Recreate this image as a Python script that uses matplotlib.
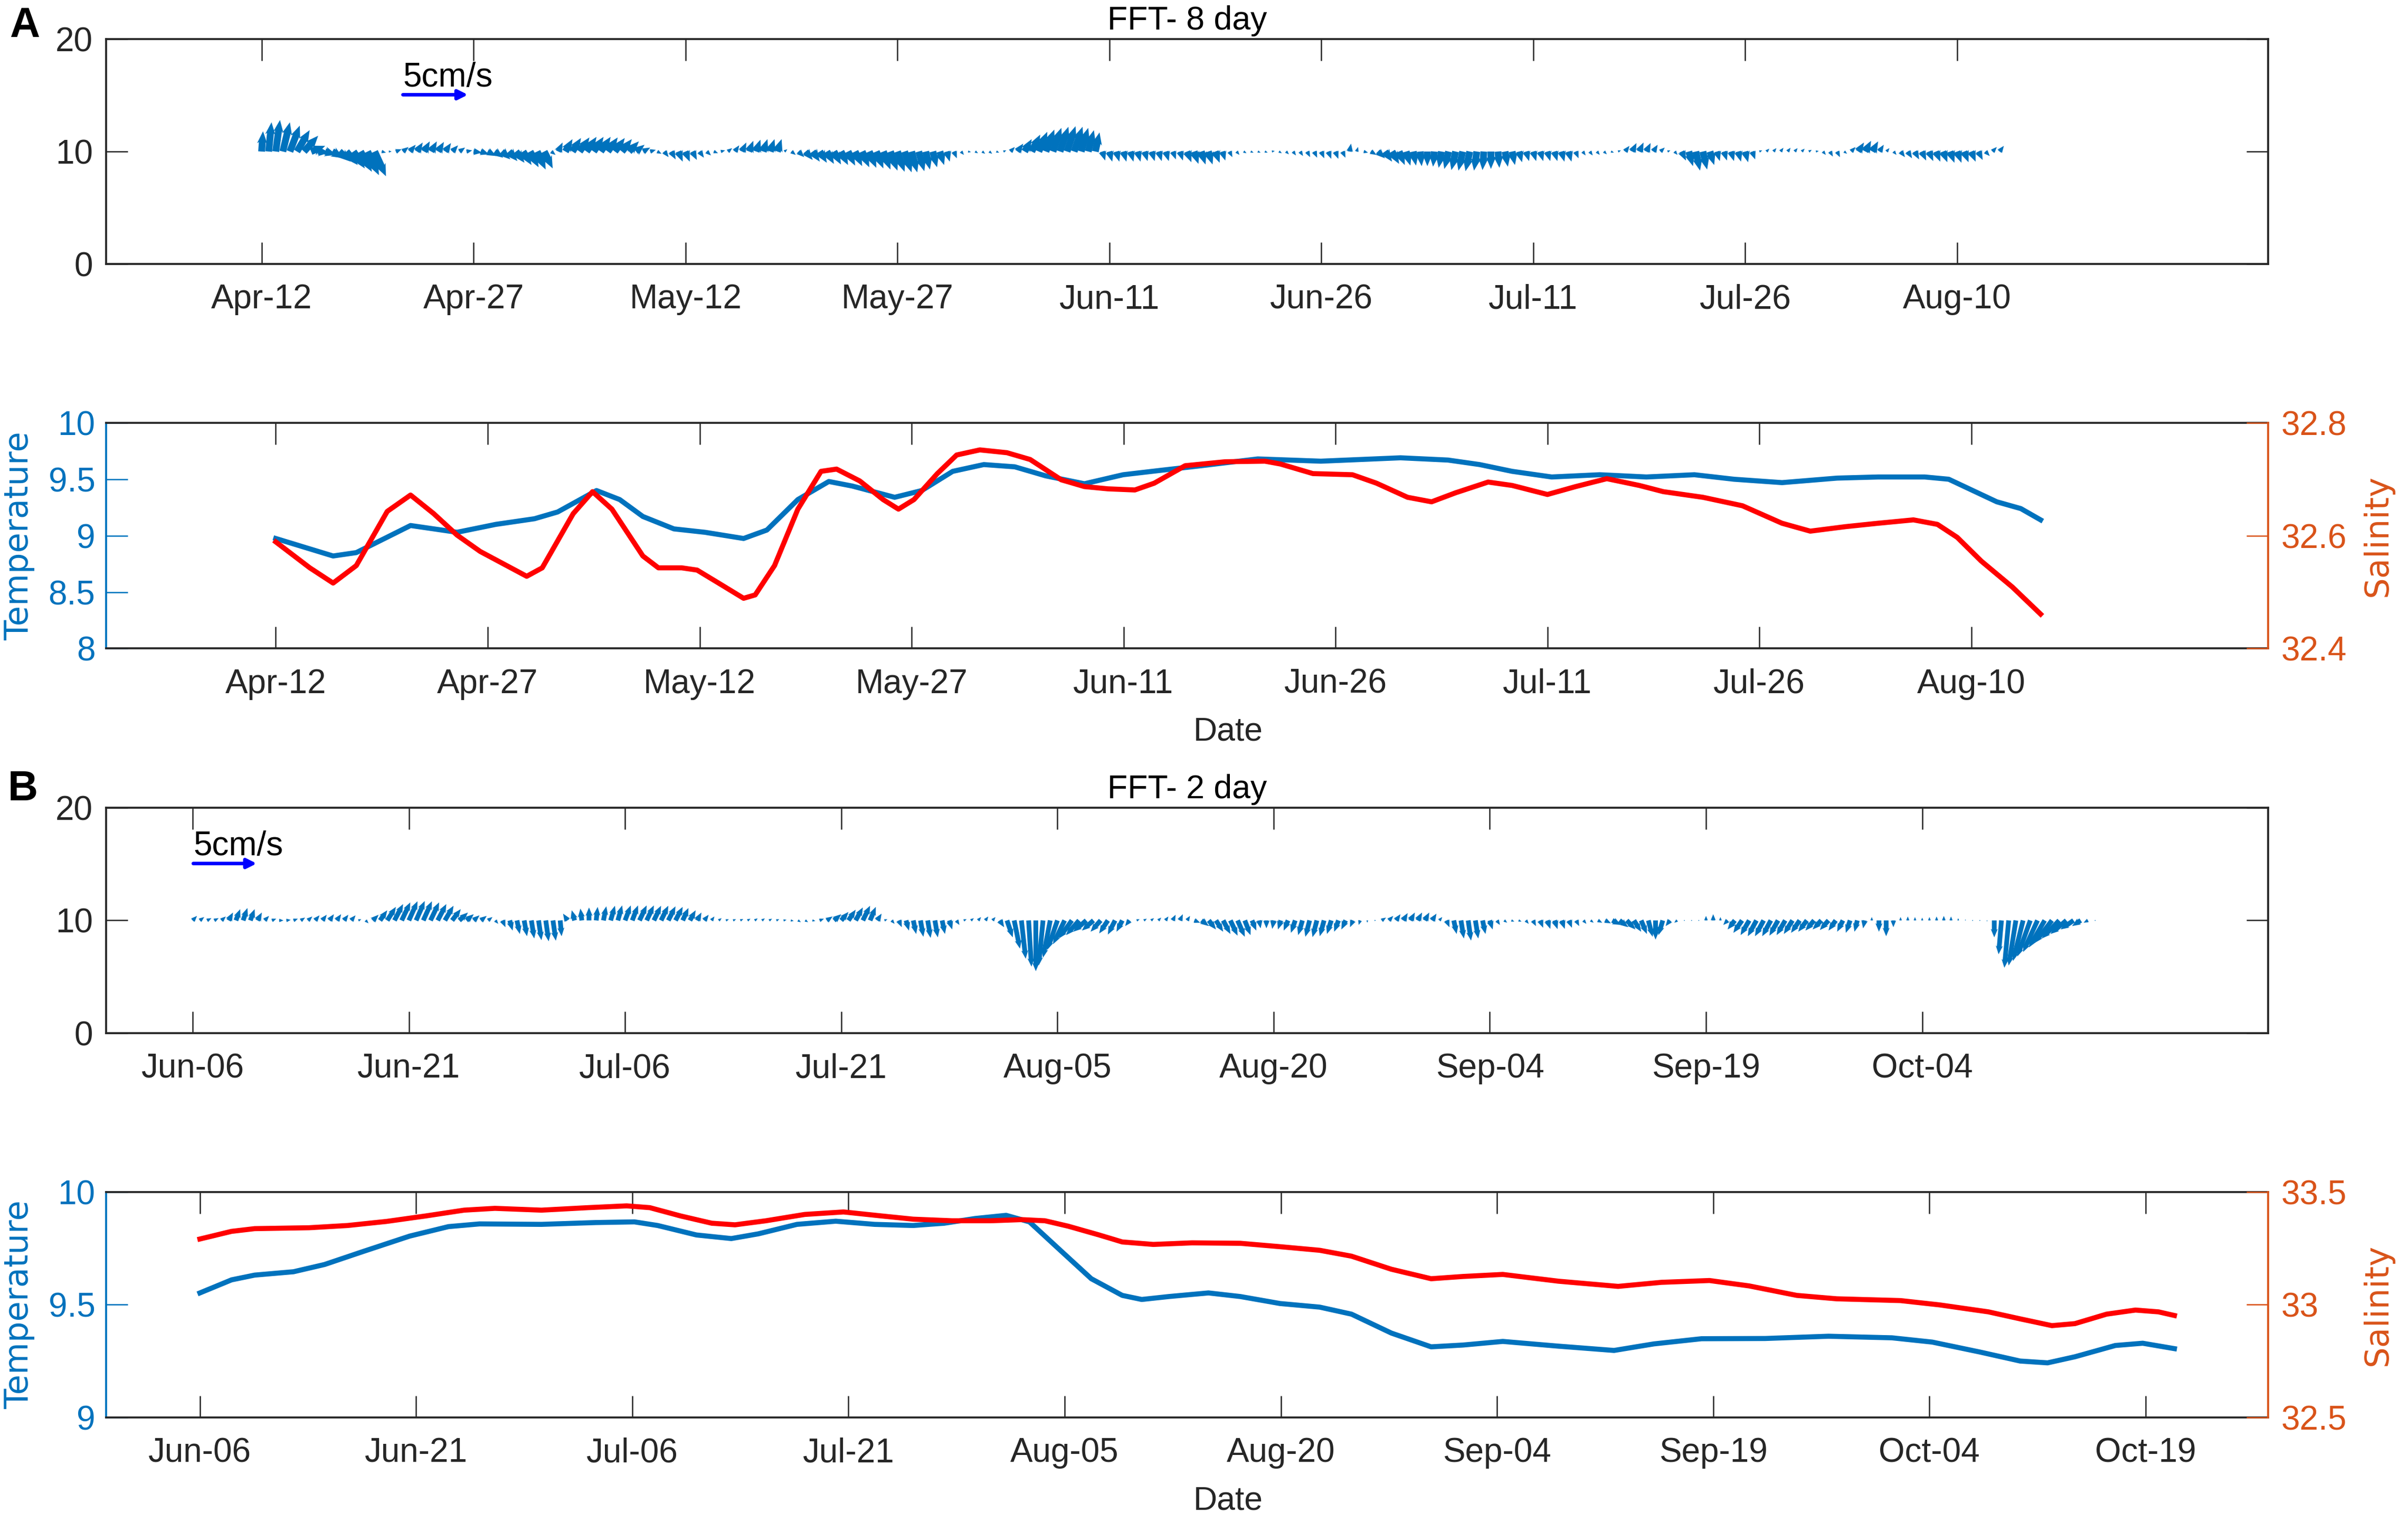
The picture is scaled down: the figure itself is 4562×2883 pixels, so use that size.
import numpy as np
import matplotlib
matplotlib.use('Agg')
import matplotlib.pyplot as plt
import matplotlib.dates as mdates
from matplotlib.ticker import FuncFormatter
from datetime import datetime

plt.rcParams['font.family'] = ['Liberation Sans', 'DejaVu Sans']

BLUE = '#0072BD'
ORANGE = '#D95319'
RED = '#FF0000'
GREY = '#262626'

# ---- panel A: FFT 8 day sticks (plot units, every 12 h from Apr-12) ----
stick_a_start = '2019-04-12'
stick_a_v = [1.8, 2.6, 2.8, 2.6, 2.3, 1.9, 1.4, 0.5, -0.1, -0.3,
             -0.6, -0.9, -1.2, -1.5, -1.8, -2.1, -2.2, -0.1, 0.0, 0.2,
             0.4, 0.6, 0.8, 0.9, 0.9, 0.85, 0.75, 0.55, 0.35, 0.1,
             -0.1, -0.25, -0.4, -0.55, -0.7, -0.85, -1.0, -1.2, -1.4, -1.6,
             -1.5, -0.3, 0.8, 1.1, 1.2, 1.25, 1.3, 1.3, 1.3, 1.25,
             1.2, 1.1, 0.9, 0.6, 0.35, 0.15, -0.2, -0.5, -0.7, -0.9,
             -0.9, -0.75, -0.55, -0.35, -0.15, 0.1, 0.3, 0.55, 0.8, 0.95,
             1.05, 1.1, 1.1, 1.1, 0.2, -0.3, -0.5, -0.75, -0.9, -1.0,
             -1.1, -1.15, -1.2, -1.25, -1.3, -1.4, -1.45, -1.5, -1.6, -1.7,
             -1.8, -1.85, -1.85, -1.75, -1.6, -1.4, -1.2, -0.9, -0.6, -0.3,
             -0.05, -0.15, -0.2, -0.2, -0.1, 0.1, 0.4, 0.7, 1.1, 1.5,
             1.75, 1.95, 2.1, 2.2, 2.25, 2.2, 2.1, 1.9, 1.7, -0.8,
             -0.9, -0.9, -0.9, -0.9, -0.9, -0.85, -0.85, -0.85, -0.85, -0.7,
             -0.8, -0.95, -1.1, -1.15, -1.15, -1.0, -0.8, -0.5, -0.3, -0.15,
             -0.1, -0.1, -0.1, 0.05, -0.15, -0.25, -0.35, -0.4, -0.5, -0.55,
             -0.6, -0.65, -0.65, -0.55, 0.7, 0.4, -0.1, -0.3, -0.6, -0.9,
             -1.1, -1.2, -1.25, -1.25, -1.3, -1.3, -1.35, -1.45, -1.55, -1.65,
             -1.7, -1.75, -1.7, -1.65, -1.55, -1.45, -1.35, -1.2, -0.95, -0.85,
             -0.85, -0.85, -0.85, -0.85, -0.9, -0.9, -0.6, -0.35, -0.35, -0.3,
             -0.25, -0.1, 0.1, 0.5, 0.75, 0.8, 0.75, 0.6, 0.35, 0.1,
             -0.3, -0.8, -1.3, -1.7, -1.6, -1.2, -0.85, -0.8, -0.85, -0.9,
             -0.95, -0.7, 0.1, 0.25, 0.3, 0.33, 0.33, 0.3, 0.25, 0.15,
             0.05, -0.3, -0.45, -0.5, -0.2, 0.4, 0.8, 0.95, 0.9, 0.6,
             0.3, -0.3, -0.5, -0.6, -0.7, -0.8, -0.85, -0.9, -0.95, -1.0,
             -1.0, -0.95, -0.9, -0.75, -0.4, 0.4, 0.5]
stick_a_u = [0.1, 0.2, 0.3, 0.5, 0.7, 0.9, 1.0, 1.0, 0.8, 0.8,
             0.8, 0.8, 0.8, 0.8, 0.8, 0.8, 0.8, 0.3, 0.2, 0.4,
             0.4, 0.4, 0.4, 0.4, 0.4, 0.4, 0.4, 0.4, 0.4, 0.4,
             0.6, 0.6, 0.6, 0.6, 0.6, 0.6, 0.6, 0.6, 0.6, 0.6,
             0.6, 0.3, 0.3, 0.5, 0.6, 0.7, 0.7, 0.7, 0.7, 0.7,
             0.7, 0.7, 0.7, 0.6, 0.5, 0.4, 0.3, 0.3, 0.3, 0.3,
             0.3, 0.3, 0.3, 0.3, 0.3, 0.3, 0.3, 0.3, 0.3, 0.3,
             0.3, 0.3, 0.3, 0.3, 0.2, 0.3, 0.4, 0.5, 0.5, 0.5,
             0.5, 0.5, 0.5, 0.5, 0.5, 0.5, 0.5, 0.5, 0.5, 0.5,
             0.5, 0.5, 0.4, 0.4, 0.3, 0.3, 0.3, 0.2, 0.2, 0.2,
             0.2, 0.2, 0.2, 0.2, 0.2, 0.2, 0.3, 0.4, 0.5, 0.6,
             0.6, 0.6, 0.6, 0.6, 0.6, 0.6, 0.5, 0.4, 0.3, 0.2,
             0.2, 0.2, 0.2, 0.2, 0.2, 0.2, 0.2, 0.2, 0.2, 0.2,
             0.2, 0.3, 0.3, 0.3, 0.3, 0.3, 0.2, 0.2, 0.2, 0.2,
             0.2, 0.2, 0.2, 0.2, 0.2, 0.2, 0.2, 0.2, 0.2, 0.2,
             0.2, 0.2, 0.2, 0.2, 0.1, 0.1, 0.3, 0.4, 0.5, 0.5,
             0.5, 0.4, 0.3, 0.2, 0.1, 0.0, -0.1, -0.2, -0.3, -0.3,
             -0.3, -0.3, -0.2, -0.1, 0.0, 0.1, 0.2, 0.2, 0.2, 0.2,
             0.2, 0.2, 0.2, 0.2, 0.2, 0.2, 0.2, 0.2, 0.2, 0.2,
             0.2, 0.2, 0.2, 0.3, 0.3, 0.3, 0.3, 0.3, 0.3, 0.2,
             0.2, 0.3, 0.3, 0.3, 0.3, 0.3, 0.2, 0.2, 0.2, 0.2,
             0.2, 0.2, 0.2, 0.2, 0.2, 0.2, 0.2, 0.2, 0.2, 0.2,
             0.2, 0.2, 0.2, 0.2, 0.2, 0.3, 0.4, 0.4, 0.4, 0.3,
             0.2, 0.2, 0.3, 0.3, 0.3, 0.3, 0.3, 0.3, 0.3, 0.3,
             0.3, 0.3, 0.3, 0.3, 0.3, 0.3, 0.3]

# ---- panel A: temperature / salinity (days after Apr-12) ----
line_a_start = '2019-04-12'
temp_a_day = [0.0, 4.06, 5.70, 9.54, 12.83, 15.57, 18.31, 19.95, 22.70, 24.34,
              25.98, 28.18, 30.37, 33.11, 34.76, 36.95, 39.14, 40.79, 43.80, 45.72,
              47.91, 50.11, 52.30, 54.49, 57.23, 59.97, 62.71, 65.5, 69.5, 73.96,
              79.6, 82.96, 85.2, 87.5, 90.3, 93.7, 97.0, 100.4, 103.2, 106.6,
              110.5, 113.4, 116.7, 118.4, 121.8, 123.5, 124.9]
temp_a = [8.975, 8.82, 8.85, 9.09, 9.03, 9.10, 9.15, 9.21, 9.40, 9.32,
          9.17, 9.06, 9.03, 8.975, 9.05, 9.32, 9.48, 9.44, 9.34, 9.40,
          9.57, 9.63, 9.61, 9.53, 9.46, 9.54, 9.58, 9.62, 9.68, 9.66,
          9.69, 9.67, 9.63, 9.57, 9.52, 9.54, 9.52, 9.54, 9.50, 9.47,
          9.51, 9.52, 9.52, 9.50, 9.30, 9.24, 9.14]
sal_a_day = [0.0, 2.41, 4.06, 5.70, 7.89, 9.54, 11.18, 12.83, 14.47, 17.76,
             18.86, 21.05, 22.42, 23.79, 25.98, 27.08, 28.73, 29.82, 31.47, 33.11,
             33.93, 35.30, 36.95, 38.59, 39.69, 41.33, 42.98, 44.07, 45.17, 46.82,
             48.19, 49.83, 51.75, 53.39, 55.59, 57.23, 58.88, 60.80, 62.17, 64.36,
             67.2, 70.0, 71.1, 73.4, 76.2, 77.9, 80.1, 81.8, 83.5, 85.8,
             87.5, 90.0, 92.0, 94.2, 96.5, 98.2, 101.0, 103.8, 106.6, 108.6,
             111.1, 113.4, 115.9, 117.6, 119.0, 120.7, 122.9, 124.9]
sal_a = [32.589, 32.543, 32.516, 32.547, 32.643, 32.672, 32.639, 32.601, 32.572, 32.528,
         32.543, 32.639, 32.678, 32.647, 32.564, 32.543, 32.543, 32.539, 32.514, 32.489,
         32.495, 32.547, 32.647, 32.714, 32.718, 32.697, 32.664, 32.647, 32.664, 32.710,
         32.743, 32.752, 32.747, 32.735, 32.699, 32.687, 32.683, 32.681, 32.693, 32.724,
         32.731, 32.732, 32.727, 32.710, 32.708, 32.693, 32.668, 32.660, 32.676, 32.695,
         32.689, 32.673, 32.687, 32.701, 32.689, 32.678, 32.668, 32.653, 32.622, 32.608,
         32.616, 32.622, 32.628, 32.620, 32.597, 32.555, 32.509, 32.461]

# ---- panel B: FFT 2 day sticks (plot units, every 12 h from Jun-06) ----
stick_b_start = '2019-06-06'
stick_b_v = [0.4, 0.3, 0.2, 0.2, 0.35, 0.7, 1.0, 1.1, 1.0, 0.7,
             0.4, 0.15, 0.0, 0.05, 0.15, 0.25, 0.35, 0.45, 0.5, 0.55,
             0.55, 0.5, 0.45, 0.1, -0.25, 0.5, 0.9, 1.2, 1.45, 1.6,
             1.7, 1.72, 1.7, 1.6, 1.45, 1.3, 1.0, 0.7, 0.55, 0.45,
             0.4, 0.3, -0.3, -0.6, -0.9, -1.2, -1.4, -1.6, -1.75, -1.85,
             -1.8, -1.4, 0.6, 0.9, 1.05, 1.15, 1.2, 1.25, 1.3, 1.33,
             1.33, 1.33, 1.33, 1.33, 1.3, 1.3, 1.25, 1.2, 1.1, 0.9,
             0.7, 0.5, 0.35, 0.2, 0.1, 0.1, 0.12, 0.15, 0.18, 0.18,
             0.15, 0.1, 0.05, -0.05, -0.15, -0.15, -0.05, 0.15, 0.35, 0.55,
             0.75, 0.95, 1.15, 1.3, 1.2, 0.6, 0.1, -0.3, -0.6, -0.9,
             -1.2, -1.45, -1.55, -1.5, -1.2, -0.8, -0.4, 0.1, 0.2, 0.3,
             0.35, 0.3, -0.6, -1.5, -2.5, -3.4, -4.1, -4.5, -4.0, -3.3,
             -2.6, -2.1, -1.6, -1.3, -1.0, -0.9, -1.0, -1.15, -1.25, -1.0,
             -0.5, 0.1, 0.15, 0.2, 0.25, 0.35, 0.5, 0.55, 0.4, -0.2,
             -0.5, -0.8, -1.0, -1.2, -1.35, -1.45, -1.3, -0.9, -0.7, -0.7,
             -0.75, -0.8, -0.9, -1.1, -1.3, -1.45, -1.48, -1.4, -1.2, -1.0,
             -0.8, -0.6, -0.4, -0.2, 0.0, 0.25, 0.4, 0.55, 0.65, 0.7,
             0.7, 0.7, 0.6, 0.3, -0.6, -1.2, -1.6, -1.79, -1.6, -1.2,
             -0.8, -0.4, -0.2, -0.1, -0.1, -0.3, -0.5, -0.65, -0.75, -0.77,
             -0.75, -0.65, -0.5, -0.3, -0.2, -0.2, -0.25, -0.4, -0.6, -0.8,
             -1.0, -1.2, -1.45, -1.7, -1.3, -0.5, -0.2, -0.05, 0.0, 0.0,
             0.4, 0.55, 0.3, -0.4, -0.8, -1.1, -1.3, -1.4, -1.4, -1.4,
             -1.35, -1.3, -1.2, -1.1, -1.0, -0.9, -0.8, -0.85, -0.9, -1.0,
             -1.1, -1.0, -0.7, 0.3, -1.0, -1.4, -0.6, 0.3, 0.35, 0.3,
             0.25, 0.3, 0.35, 0.4, 0.35, 0.2, 0.1, 0.05, 0.0, -0.1,
             -1.5, -3.0, -4.2, -4.0, -3.6, -3.2, -2.8, -2.4, -2.0, -1.6,
             -1.2, -0.8, -0.5, -0.2, 0.0]
stick_b_u = [0.3, 0.3, 0.3, 0.3, 0.3, 0.3, 0.3, 0.3, 0.3, 0.3,
             0.3, 0.3, 0.3, 0.3, 0.3, 0.3, 0.3, 0.3, 0.3, 0.3,
             0.3, 0.3, 0.3, 0.2, 0.2, 0.4, 0.5, 0.6, 0.6, 0.6,
             0.6, 0.6, 0.6, 0.6, 0.6, 0.6, 0.6, 0.6, 0.5, 0.4,
             0.4, 0.3, 0.2, 0.2, 0.2, 0.2, 0.2, 0.2, 0.2, 0.2,
             0.2, 0.1, -0.3, -0.2, -0.1, 0.0, 0.1, 0.2, 0.3, 0.3,
             0.4, 0.4, 0.5, 0.5, 0.5, 0.5, 0.5, 0.5, 0.4, 0.4,
             0.3, 0.3, 0.2, 0.2, 0.2, 0.2, 0.2, 0.2, 0.2, 0.2,
             0.2, 0.2, 0.2, 0.2, 0.2, 0.2, 0.2, 0.3, 0.4, 0.5,
             0.5, 0.5, 0.5, 0.5, 0.4, 0.3, 0.2, 0.2, 0.2, 0.2,
             0.2, 0.2, 0.2, 0.2, 0.2, 0.2, 0.2, 0.2, 0.2, 0.2,
             0.2, 0.2, 0.3, 0.4, 0.4, 0.3, 0.2, 0.0, -0.3, -0.5,
             -0.7, -0.8, -0.9, -0.9, -0.9, -0.8, -0.7, -0.6, -0.5, -0.4,
             -0.3, 0.2, 0.2, 0.2, 0.2, 0.2, 0.2, 0.2, 0.2, 0.4,
             0.5, 0.5, 0.5, 0.5, 0.5, 0.5, 0.4, 0.3, 0.1, 0.0,
             -0.1, -0.2, -0.3, -0.3, -0.3, -0.3, -0.3, -0.3, -0.3, -0.3,
             -0.3, -0.2, -0.1, 0.0, 0.1, 0.3, 0.3, 0.3, 0.3, 0.3,
             0.3, 0.3, 0.3, 0.2, 0.2, 0.2, 0.2, 0.2, 0.2, 0.2,
             0.2, 0.2, 0.2, 0.2, 0.2, 0.2, 0.2, 0.2, 0.2, 0.2,
             0.2, 0.2, 0.2, 0.2, 0.2, 0.3, 0.4, 0.6, 0.6, 0.6,
             0.5, 0.4, 0.3, 0.0, -0.3, -0.3, -0.2, 0.0, 0.0, 0.0,
             0.0, 0.0, 0.0, -0.3, -0.5, -0.6, -0.6, -0.6, -0.6, -0.6,
             -0.6, -0.6, -0.6, -0.6, -0.6, -0.6, -0.6, -0.6, -0.5, -0.4,
             -0.3, -0.2, -0.1, 0.0, 0.0, 0.0, 0.0, 0.0, 0.0, 0.0,
             0.0, 0.0, 0.0, 0.0, 0.0, 0.0, 0.0, 0.0, 0.0, 0.0,
             0.0, -0.2, -0.3, -0.5, -0.7, -0.9, -1.0, -1.1, -1.2, -1.2,
             -1.1, -0.9, -0.6, -0.3, 0.0]

# ---- panel B: temperature / salinity (days after Jun-06) ----
line_b_start = '2019-06-06'
temp_b_day = [0.0, 2.2, 3.8, 6.5, 8.65, 11.34, 14.56, 17.25, 19.40, 23.70,
              27.46, 30.15, 31.76, 34.45, 36.87, 38.75, 41.43, 44.12, 46.81, 49.49,
              51.64, 53.79, 55.94, 57.56, 59.70, 61.85, 64.0, 65.35, 67.23, 69.98,
              72.19, 74.95, 77.7, 79.9, 82.67, 85.43, 87.64, 90.4, 94.26, 98.12,
              100.88, 104.19, 108.6, 113.0, 117.4, 120.2, 123.5, 126.3, 128.2, 130.1,
              132.9, 134.8, 137.0]
temp_b = [9.552, 9.610, 9.631, 9.646, 9.678, 9.736, 9.804, 9.846, 9.858, 9.856,
          9.864, 9.867, 9.851, 9.809, 9.793, 9.814, 9.856, 9.870, 9.856, 9.851,
          9.861, 9.882, 9.896, 9.867, 9.741, 9.615, 9.541, 9.523, 9.536, 9.552,
          9.536, 9.505, 9.489, 9.458, 9.374, 9.313, 9.321, 9.337, 9.316, 9.297,
          9.326, 9.349, 9.350, 9.360, 9.353, 9.334, 9.290, 9.250, 9.242, 9.269,
          9.319, 9.329, 9.305]
sal_b_day = [0.0, 2.2, 3.8, 7.58, 10.26, 12.95, 15.64, 18.33, 20.47, 23.70,
             26.92, 29.61, 31.22, 33.37, 35.52, 37.13, 39.28, 41.97, 44.66, 47.34,
             49.49, 52.18, 54.87, 57.02, 58.63, 60.24, 62.39, 64.0, 66.15, 68.84,
             72.19, 74.95, 77.7, 79.9, 82.67, 85.43, 87.64, 90.4, 94.26, 98.4,
             101.4, 104.74, 107.5, 110.8, 113.57, 118.0, 120.7, 124.1, 126.3, 128.5,
             130.1, 132.3, 134.3, 135.9, 137.0]
sal_b = [33.291, 33.325, 33.337, 33.341, 33.351, 33.369, 33.393, 33.419, 33.427, 33.419,
         33.430, 33.438, 33.430, 33.393, 33.361, 33.354, 33.372, 33.400, 33.411, 33.393,
         33.379, 33.372, 33.372, 33.377, 33.372, 33.348, 33.309, 33.278, 33.267, 33.274,
         33.272, 33.257, 33.241, 33.215, 33.157, 33.115, 33.125, 33.134, 33.104, 33.081,
         33.099, 33.107, 33.083, 33.041, 33.026, 33.018, 32.999, 32.968, 32.937, 32.907,
         32.916, 32.958, 32.976, 32.968, 32.952]

# tick dates
ticks_a = ['2019-04-12', '2019-04-27', '2019-05-12', '2019-05-27', '2019-06-11',
           '2019-06-26', '2019-07-11', '2019-07-26', '2019-08-10']
ticks_b_top = ['2019-06-06', '2019-06-21', '2019-07-06', '2019-07-21', '2019-08-05',
               '2019-08-20', '2019-09-04', '2019-09-19', '2019-10-04']
ticks_b_bot = ticks_b_top + ['2019-10-19']

# 5 cm/s reference arrow (start date, length in plot units)
ref_a = ('2019-04-22', 4.6)
ref_b = ('2019-06-06 01:00', 4.4)


def dn(s):
    fmt = '%Y-%m-%d %H:%M' if ' ' in s else '%Y-%m-%d'
    return mdates.date2num(datetime.strptime(s, fmt))


TICK = 15.3
fmt_g = FuncFormatter(lambda x, p: '{:g}'.format(x))


def style_x(ax, ticks, xlim):
    ax.set_xlim(dn(xlim[0]), dn(xlim[1]))
    ax.set_xticks([dn(t) for t in ticks])
    ax.xaxis.set_major_formatter(mdates.DateFormatter('%b-%d'))
    ax.tick_params(axis='x', direction='in', length=9.8, width=0.6, top=True,
                   color=GREY, labelcolor=GREY, labelsize=TICK, pad=9)
    for s in ['top', 'bottom', 'left', 'right']:
        ax.spines[s].set_color(GREY)
        ax.spines[s].set_linewidth(0.9)


def stick_panel(rect, start, u, v, ticks, xlim, title, ref, stick_w):
    ax = fig.add_axes(rect)
    t = dn(start) + 0.5 * np.arange(len(v))
    ax.quiver(t, np.full(len(v), 10.0), u, v, angles='xy', scale_units='xy', scale=1,
              units='dots', width=stick_w, headwidth=1.5, headlength=1.8,
              headaxislength=1.6, minlength=0.2, color=BLUE)
    ax.set_ylim(0, 20)
    ax.set_yticks([0, 10, 20])
    ax.yaxis.set_major_formatter(fmt_g)
    style_x(ax, ticks, xlim)
    ax.tick_params(axis='y', direction='in', length=9.8, width=0.6, right=True,
                   color=GREY, labelcolor=GREY, labelsize=TICK, pad=6)
    ax.set_title(title, fontsize=15, color='black', pad=4.3)
    x0 = dn(ref[0])
    ax.annotate('', xy=(x0 + ref[1], 15.05), xytext=(x0, 15.05),
                arrowprops=dict(arrowstyle='-|>', color='#0000FF', lw=1.6,
                                mutation_scale=9, shrinkA=0, shrinkB=0))
    ax.text(x0, 15.8, '5cm/s', fontsize=TICK, color='black', va='baseline', ha='left')
    return ax


def ts_panel(rect, start, tday, temp, sday, sal, ticks, xlim, tlim, tticks, slim, sticks):
    ax = fig.add_axes(rect)
    ax2 = ax.twinx()
    t0 = dn(start)
    ax.plot(t0 + np.array(tday), temp, color=BLUE, lw=2.3, solid_joinstyle='round')
    ax2.plot(t0 + np.array(sday), sal, color=RED, lw=2.3, solid_joinstyle='round')
    ax.set_ylim(*tlim)
    ax.set_yticks(tticks)
    ax2.set_ylim(*slim)
    ax2.set_yticks(sticks)
    ax.yaxis.set_major_formatter(fmt_g)
    ax2.yaxis.set_major_formatter(fmt_g)
    style_x(ax, ticks, xlim)
    ax2.set_xlim(ax.get_xlim())
    ax.spines['left'].set_color(BLUE)
    ax.spines['right'].set_visible(False)
    for s in ['top', 'bottom', 'left']:
        ax2.spines[s].set_visible(False)
    ax2.spines['right'].set_color(ORANGE)
    ax2.spines['right'].set_linewidth(0.9)
    ax.tick_params(axis='y', direction='in', length=9.8, width=0.6,
                   color=BLUE, labelcolor=BLUE, labelsize=TICK, pad=5)
    ax2.tick_params(axis='y', direction='in', length=9.8, width=0.6,
                    color=ORANGE, labelcolor=ORANGE, labelsize=TICK, pad=6)
    ax.set_ylabel('Temperature', color=BLUE, fontsize=15, family='DejaVu Sans')
    ax.yaxis.set_label_coords(-0.033, 0.5)
    ax2.set_ylabel('Salinity', color=ORANGE, fontsize=15, family='DejaVu Sans',
                   rotation=90)
    ax2.yaxis.set_label_coords(1.0435, 0.5)
    ax.set_xlabel('Date', fontsize=15, color=GREY)
    ax.xaxis.set_label_coords(0.519, -0.30)
    return ax


fig = plt.figure(figsize=(4562 / 300, 2883 / 300), dpi=300)

stick_panel([0.0441, 0.8266, 0.8978, 0.1477], stick_a_start, stick_a_u, stick_a_v,
            ticks_a, ('2019-04-01', '2019-09-01'), 'FFT- 8 day', ref_a, 13)
ts_panel([0.0441, 0.5739, 0.8978, 0.1483], line_a_start, temp_a_day, temp_a,
         sal_a_day, sal_a, ticks_a, ('2019-03-31', '2019-08-31'),
         (8, 10), [8, 8.5, 9, 9.5, 10], (32.4, 32.8), [32.4, 32.6, 32.8])
stick_panel([0.0441, 0.3212, 0.8978, 0.1481], stick_b_start, stick_b_u, stick_b_v,
            ticks_b_top, ('2019-05-31', '2019-10-28'), 'FFT- 2 day', ref_b, 9)
ts_panel([0.0441, 0.0687, 0.8978, 0.1482], line_b_start, temp_b_day, temp_b,
         sal_b_day, sal_b, ticks_b_bot, ('2019-05-30 12:00', '2019-10-27 12:00'),
         (9, 10), [9, 9.5, 10], (32.5, 33.5), [32.5, 33, 33.5])

fig.text(18 / 4562, 1 - 12 / 2883, 'A', fontsize=19, fontweight='bold', va='top', ha='left')
fig.text(15 / 4562, 1 - 1458 / 2883, 'B', fontsize=19, fontweight='bold', va='top', ha='left')

fig.savefig('out.png', dpi=300)
